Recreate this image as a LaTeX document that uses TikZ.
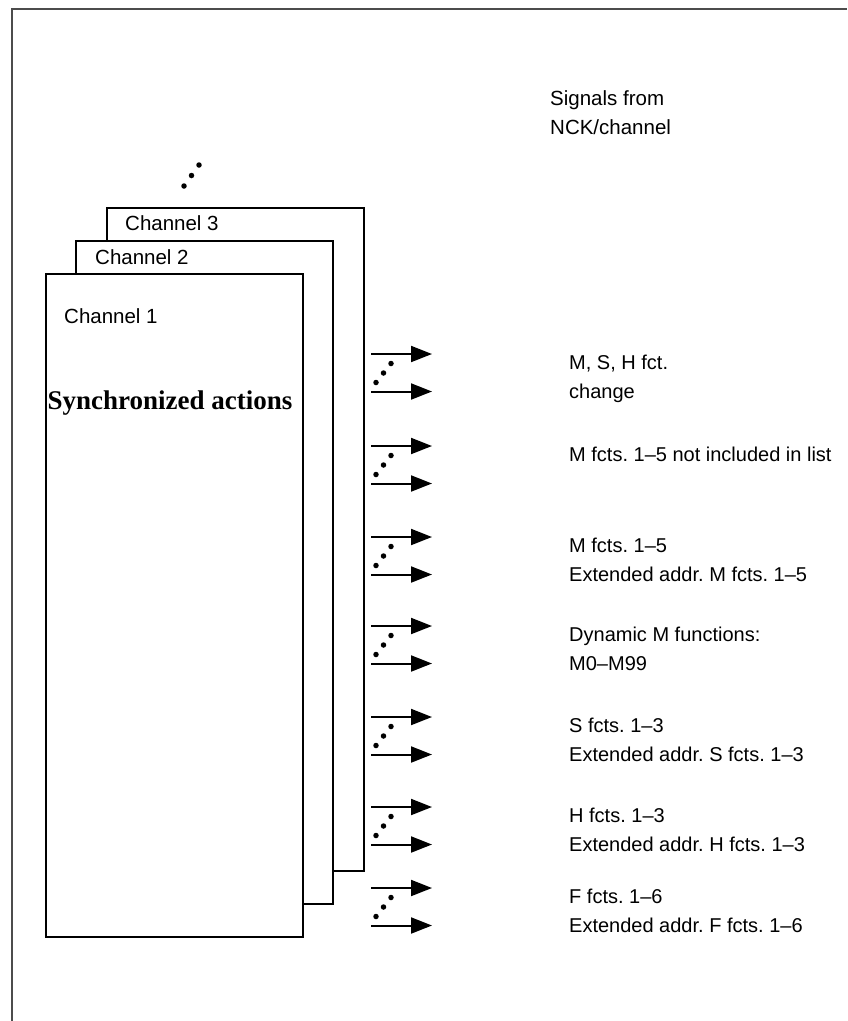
\documentclass[tikz,border=0pt]{standalone}
\usepackage{fontspec}
\setmainfont{Liberation Sans}
\newfontfamily\boldserif{Liberation Serif}
\usetikzlibrary{arrows.meta}
\frenchspacing
\begin{document}
\begin{tikzpicture}[x=1pt,y=-1pt,
  chanbox/.style={draw=black,line width=2pt,fill=white,anchor=north west,
    minimum width=256.5pt,minimum height=663pt,inner sep=0pt},
  lbl/.style={anchor=base west,inner sep=0pt,font=\fontsize{20.5}{24}\selectfont},
  siglbl/.style={anchor=base west,inner sep=0pt,font=\fontsize{20}{24}\selectfont},
  sig/.style={line width=2pt,-{Triangle[length=21pt,width=16pt]}},
  dotmark/.style={circle,fill=black,inner sep=0pt,minimum size=5.5pt}]
\useasboundingbox (0,0) rectangle (847,1021);

% page frame (top and left edges)
\draw[line width=1.3pt,draw=black!70] (12,1021) -- (12,9) -- (847,9);

% stacked channel sheets, back to front
\node[chanbox] (ch3) at (106,207) {};
\node[chanbox] (ch2) at (75,240) {};
\node[chanbox] (ch1) at (45,273) {};

% further channels
\node[dotmark] (cd1) at (184,186) {};
\node[dotmark] (cd2) at (191.5,175.5) {};
\node[dotmark] (cd3) at (199,165) {};

\node[lbl] (l3) at (125,230) {Channel 3};
\node[lbl] (l2) at (95,264) {Channel 2};
\node[lbl] (l1) at (64,323) {Channel 1};
\node[anchor=base,inner sep=0pt,font=\boldserif\bfseries\fontsize{27}{30}\selectfont]
  (sync) at (170,409) {Synchronized actions};

\node[lbl] (hd1) at (550,105) {Signals from};
\node[lbl] (hd2) at (550,134) {NCK/channel};

% output signal groups: two arrows with dots between
\foreach \u [count=\i] in {354,446,537,626,717,807,888} {
  \coordinate (as\i) at (371,\u);
  \coordinate (ae\i) at (432,\u);
  \coordinate (bs\i) at (371,\u+37.5);
  \coordinate (be\i) at (432,\u+37.5);
  \draw[sig] (as\i) -- (ae\i);
  \draw[sig] (bs\i) -- (be\i);
  \node[dotmark] (d\i a) at (376,\u+28.5) {};
  \node[dotmark] (d\i b) at (383.5,\u+19) {};
  \node[dotmark] (d\i c) at (391,\u+9.5) {};
}

\node[siglbl] (t1a) at (569,369) {M, S, H fct.};
\node[siglbl] (t1b) at (569,398) {change};
\node[siglbl] (t2a) at (569,461) {M fcts. 1–5 not included in list};
\node[siglbl] (t3a) at (569,552) {M fcts. 1–5};
\node[siglbl] (t3b) at (569,581) {Extended addr. M fcts. 1–5};
\node[siglbl] (t4a) at (569,641) {Dynamic M functions:};
\node[siglbl] (t4b) at (569,670) {M0–M99};
\node[siglbl] (t5a) at (569,732) {S fcts. 1–3};
\node[siglbl] (t5b) at (569,761) {Extended addr. S fcts. 1–3};
\node[siglbl] (t6a) at (569,822) {H fcts. 1–3};
\node[siglbl] (t6b) at (569,851) {Extended addr. H fcts. 1–3};
\node[siglbl] (t7a) at (569,903) {F fcts. 1–6};
\node[siglbl] (t7b) at (569,932) {Extended addr. F fcts. 1–6};
\end{tikzpicture}
\end{document}
